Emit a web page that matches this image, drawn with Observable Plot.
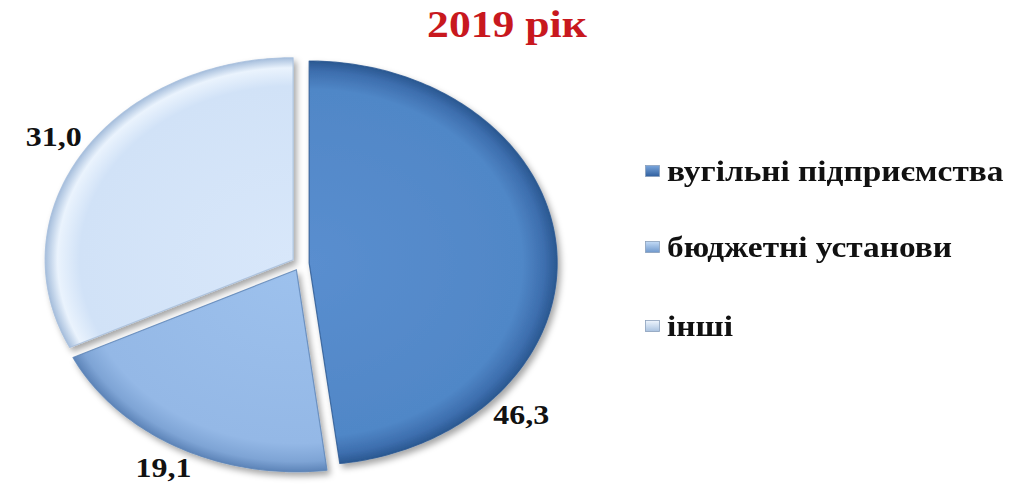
<!DOCTYPE html>
<html>
<head>
<meta charset="utf-8">
<script src="https://cdn.jsdelivr.net/npm/d3@7"></script>
<script src="https://cdn.jsdelivr.net/npm/@observablehq/plot@0.6"></script>
<style>
  html, body { margin: 0; padding: 0; background: #fff; }
  #wrap { position: relative; width: 1018px; height: 485px; overflow: hidden; font-family: "Liberation Serif", "Times New Roman", serif; }
  #title { position: absolute; left: 0; top: 0; width: 1018px; height: 50px; }
  #title span { position: absolute; left: 507px; top: 3px; transform: translateX(-50%) scaleX(1.18); font-size: 37px; font-weight: bold; color: #c8181e; white-space: nowrap; line-height: 44px; }
  #chart { position: absolute; left: 0; top: 50px; }
  #legend { position: absolute; left: 645px; top: 0; }
  .row { position: absolute; left: 0; height: 34px; white-space: nowrap; }
  .sw { position: absolute; left: 0; top: 11px; width: 15px; height: 12px; }
  .lt { position: absolute; left: 22px; top: 0; font-family: "Liberation Serif", "Times New Roman", serif; font-size: 29px; font-weight: bold; color: #111; line-height: 34px; transform-origin: 0 50%; transform: scaleX(1.15); }
</style>
</head>
<body>
<div id="wrap">
  <div id="title"><span>2019 рік</span></div>
  <div id="chart"></div>
  <div id="legend"></div>
</div>
<script>
// ---- data ----
const categories = ["вугільні підприємства", "бюджетні установи", "інші"];
const values = [46.3, 19.1, 31.0];

// ---- layout / style ----
const W = 1018, H = 435;
const cx = 300, cy = 213, rx = 248, ry = 202;
const explode = 0.035;
const labelR = [1.14, 1.12, 1.14];
const labelFrac = [0.76, 0.5, 0.5];
const palette = [
  ["#5a8ecf", "#5087c7", "#3d6eae", "#2a5891"],
  ["#9dc1ed", "#94b8e6", "#7ea4d5", "#5d84b8"],
  ["#d8e7fa", "#d1e2f7", "#eaf3fd", "#a6bedc"]
];
const legendRowTop = [154, 230, 309];

const fmt = v => d3.format(".1f")(v).replace(".", ",");

const arcs = d3.pie().sort(null).value(d => d)(values);
const slices = arcs.map((p, i) => {
  const mid = (p.startAngle + p.endAngle) / 2;
  const ox = explode * Math.sin(mid), oy = explode * Math.cos(mid);
  const pts = [{i, x: ox, y: oy}];
  const n = Math.ceil((p.endAngle - p.startAngle) / (Math.PI / 180));
  for (let k = 0; k <= n; k++) {
    const a = p.startAngle + (p.endAngle - p.startAngle) * k / n;
    pts.push({i, x: ox + Math.sin(a), y: oy + Math.cos(a)});
  }
  const la = p.startAngle + (p.endAngle - p.startAngle) * labelFrac[i];
  return {i, ox, oy, pts, label: {x: ox + labelR[i] * Math.sin(la), y: oy + labelR[i] * Math.cos(la), text: fmt(values[i])}};
});

const plot = Plot.plot({
  width: W, height: H,
  margin: 0,
  x: {domain: [-cx / rx, (W - cx) / rx], range: [0, W], axis: null},
  y: {domain: [-(H - cy) / ry, cy / ry], range: [H, 0], axis: null},
  style: {background: "transparent", overflow: "visible"},
  marks: [
    ...slices.map(s => Plot.line(s.pts, {x: "x", y: "y", curve: "linear-closed", fill: `url(#grad${s.i})`, stroke: palette[s.i][3], strokeWidth: 1.2, strokeOpacity: 0.8})),
    Plot.text(slices.map(s => s.label), {x: "x", y: "y", text: "text", fontSize: 28, fontWeight: "bold", fill: "#111", fontFamily: "Liberation Serif"})
  ]
});
document.getElementById("chart").appendChild(plot);

// gradients + shadow
const defs = document.createElementNS("http://www.w3.org/2000/svg", "defs");
let html = `<filter id="shadow" x="-20%" y="-20%" width="140%" height="140%"><feDropShadow dx="3" dy="4" stdDeviation="3" flood-color="#000" flood-opacity="0.35"/></filter>`;
slices.forEach(s => {
  const px = cx + s.ox * rx, py = cy - s.oy * ry;
  const c = palette[s.i];
  html += `<radialGradient id="grad${s.i}" gradientUnits="userSpaceOnUse" cx="${px}" cy="${py}" r="${rx}" gradientTransform="translate(${px},${py}) scale(1,${ry / rx}) translate(${-px},${-py})">
    <stop offset="0" stop-color="${c[0]}"/><stop offset="0.86" stop-color="${c[1]}"/><stop offset="0.95" stop-color="${c[2]}"/><stop offset="1" stop-color="${c[3]}"/></radialGradient>`;
});
const lgDefs = `<linearGradient id="lg0" x1="0" y1="0" x2="0" y2="1"><stop offset="0" stop-color="#7aa6dc"/><stop offset="1" stop-color="#2f5f9e"/></linearGradient>
<linearGradient id="lg1" x1="0" y1="0" x2="0" y2="1"><stop offset="0" stop-color="#c3dbf6"/><stop offset="1" stop-color="#6f98cc"/></linearGradient>
<linearGradient id="lg2" x1="0" y1="0" x2="0" y2="1"><stop offset="0" stop-color="#eef5fd"/><stop offset="1" stop-color="#a9c2e0"/></linearGradient>`;
defs.innerHTML = html + lgDefs;
plot.insertBefore(defs, plot.firstChild);
plot.querySelectorAll('g[aria-label="line"] path').forEach(p => p.setAttribute("filter", "url(#shadow)"));

// stretch label text horizontally like the reference
plot.querySelectorAll('g[aria-label="text"] text').forEach(t => {
  const L = t.getComputedTextLength();
  t.setAttribute("textLength", (L * 1.14).toFixed(1));
  t.setAttribute("lengthAdjust", "spacingAndGlyphs");
});

// legend
const lg = document.getElementById("legend");
categories.forEach((c, i) => {
  const row = document.createElement("div");
  row.className = "row";
  row.style.top = legendRowTop[i] + "px";
  row.innerHTML = `<svg class="sw" width="15" height="12"><rect x="0.5" y="0.5" width="14" height="11" fill="url(#lg${i})" stroke="#8aa0bb" stroke-width="0.8"/></svg>`;
  const span = document.createElement("span");
  span.className = "lt";
  span.textContent = c;
  row.appendChild(span);
  lg.appendChild(row);
});
</script>
</body>
</html>
